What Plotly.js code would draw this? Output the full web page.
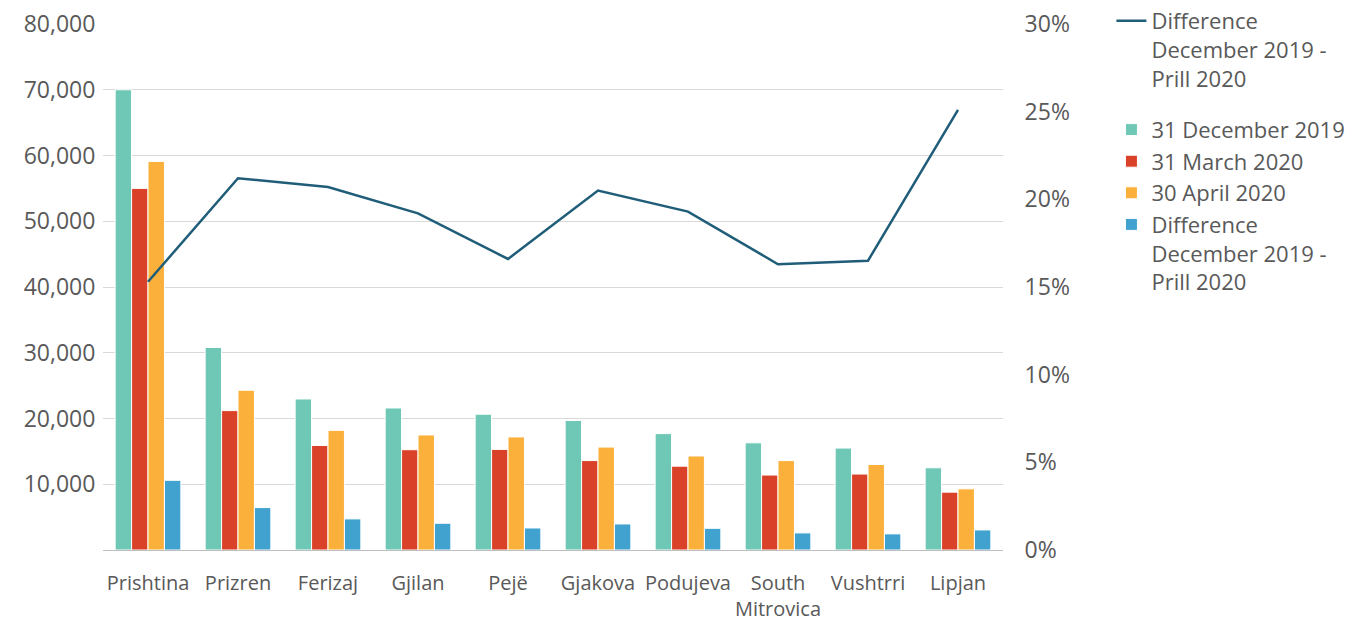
<!DOCTYPE html>
<html lang="en">
<head>
  <meta charset="UTF-8">
  <title>Difference December 2019 - Prill 2020</title>
  <script src="https://cdn.plot.ly/plotly-3.0.1.min.js"></script>
  <style>
    body { margin: 0; background: #fff; }
    #chart { width: 1348px; height: 621px; }
  </style>
</head>
<body>
  <div id="chart"></div>
  <script>
    // categories and values
    const cities = ['Prishtina', 'Prizren', 'Ferizaj', 'Gjilan', 'Pejë', 'Gjakova',
                    'Podujeva', 'South<br>Mitrovica', 'Vushtrri', 'Lipjan'];
    const dec2019 = [70000, 30800, 22970, 21600, 20650, 19700, 17700, 16300, 15500, 12500];
    const mar2020 = [55000, 21200, 15900, 15250, 15300, 13600, 12750, 11400, 11550, 8800];
    const apr2020 = [59100, 24300, 18200, 17500, 17200, 15650, 14300, 13600, 13000, 9300];
    const diffAbs = [10600, 6450, 4730, 4070, 3350, 3960, 3300, 2600, 2450, 3050];
    const diffPct = [0.153, 0.212, 0.207, 0.192, 0.166, 0.205, 0.193, 0.163, 0.165, 0.251];
    const leftTicks = [10000, 20000, 30000, 40000, 50000, 60000, 70000, 80000];

    const diffLabel = 'Difference<br>December 2019 -<br>Prill 2020';
    const textColor = '#595959';

    function barTrace(name, values, color) {
      return {
        type: 'bar', name: name, x: cities, y: values,
        marker: { color: color, line: { color: '#ffffff', width: 1 } },
        legendgroup: 'bars', hoverinfo: 'x+y+name'
      };
    }

    const traces = [
      {
        type: 'scatter', mode: 'lines', name: diffLabel, x: cities, y: diffPct,
        yaxis: 'y2', line: { color: '#1f5d78', width: 2.5 },
        legendgroup: 'line'
      },
      barTrace('31 December 2019', dec2019, '#6fc7b5'),
      barTrace('31 March 2020', mar2020, '#da4129'),
      barTrace('30 April 2020', apr2020, '#fbb03b'),
      barTrace(diffLabel, diffAbs, '#41a2d0')
    ];

    const layout = {
      width: 1348, height: 621,
      margin: { l: 103, r: 345, t: 24, b: 71 },
      font: { family: '"Open Sans", Lato, sans-serif', size: 20, color: textColor },
      paper_bgcolor: '#ffffff', plot_bgcolor: '#ffffff',
      barmode: 'group', bargap: 0.27, bargroupgap: 0,
      xaxis: {
        showgrid: false, showline: true, linecolor: '#bfbfbf', linewidth: 1,
        ticks: 'outside', ticklen: 15, tickcolor: 'rgba(0,0,0,0)',
        tickfont: { size: 20, color: textColor }
      },
      yaxis: {
        range: [0, 80000], tickvals: leftTicks, tickformat: ',',
        showgrid: true, gridcolor: '#d9d9d9', gridwidth: 1,
        zeroline: false, showline: false,
        ticks: 'outside', ticklen: 2, tickcolor: 'rgba(0,0,0,0)',
        tickfont: { size: 23, color: textColor }
      },
      yaxis2: {
        overlaying: 'y', side: 'right', range: [0, 0.30], dtick: 0.05,
        tickformat: '.0%', showgrid: false, zeroline: false, showline: false,
        ticks: 'outside', ticklen: 16, tickcolor: 'rgba(0,0,0,0)',
        tickfont: { size: 23, color: textColor }
      },
      legend: {
        xref: 'container', yref: 'container',
        x: 0.8245, xanchor: 'left', y: 1, yanchor: 'top',
        traceorder: 'grouped', tracegroupgap: 20, valign: 'top',
        font: { size: 22, color: textColor }, bgcolor: 'rgba(0,0,0,0)'
      },
      showlegend: true
    };

    Plotly.newPlot('chart', traces, layout, { displayModeBar: false });
  </script>
</body>
</html>
